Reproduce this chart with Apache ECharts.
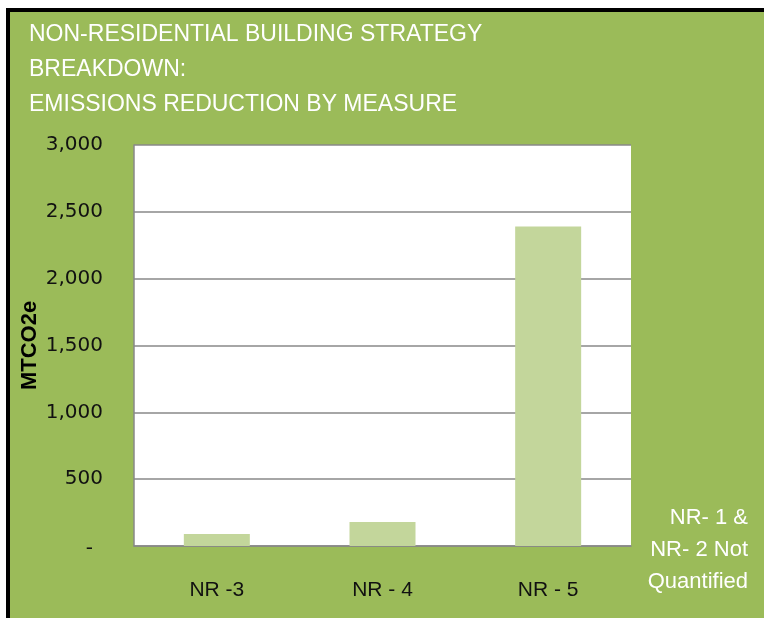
<!DOCTYPE html>
<html>
<head>
<meta charset="utf-8">
<script src="https://cdn.jsdelivr.net/npm/echarts@6/dist/echarts.min.js"></script>
<style>
  html, body { margin: 0; padding: 0; background: #ffffff; }
  #frame {
    position: absolute; left: 6px; top: 8px; width: 758px; height: 610px;
    box-sizing: border-box; background: #9BBB59;
    border-top: 4px solid #000; border-left: 4px solid #000;
  }
  #chart { position: absolute; left: 0; top: 0; width: 764px; height: 618px; }
</style>
</head>
<body>
<div id="frame"></div>
<div id="chart"></div>
<script>
// Emissions reduction per non-residential measure (MTCO2e)
const categories = ['NR -3', 'NR - 4', 'NR - 5'];
const reductions = [90, 180, 2390];
const yTicks = { min: 0, max: 3000, interval: 500 };
const titleLines = [
  'NON-RESIDENTIAL BUILDING STRATEGY',
  'BREAKDOWN:',
  'EMISSIONS REDUCTION BY MEASURE'
];
const noteLines = ['NR- 1 &', 'NR- 2 Not', 'Quantified'];

const chart = echarts.init(document.getElementById('chart'), null, { renderer: 'canvas' });

chart.setOption({
  backgroundColor: 'transparent',
  animation: false,
  title: {
    text: titleLines.join('\n'),
    left: 24,
    top: 12,
    textStyle: {
      color: '#ffffff',
      fontFamily: 'Liberation Sans',
      fontWeight: 'normal',
      fontSize: 23,
      lineHeight: 35
    }
  },
  grid: { left: 134, top: 145, right: 133, bottom: 72 },
  xAxis: {
    type: 'category',
    data: categories,
    axisLine: { show: true, lineStyle: { color: '#888888', width: 1.5 } },
    axisTick: { show: false },
    axisLabel: {
      color: '#111111',
      fontFamily: 'Liberation Sans',
      fontSize: 21,
      margin: 34
    }
  },
  yAxis: {
    type: 'value',
    min: yTicks.min,
    max: yTicks.max,
    interval: yTicks.interval,
    name: 'MTCO2e',
    nameLocation: 'middle',
    nameGap: 93,
    nameMoveOverlap: false,
    nameRotate: 90,
    nameTextStyle: {
      color: '#000000',
      fontFamily: 'Liberation Sans',
      fontWeight: 'bold',
      fontSize: 22
    },
    axisLine: { show: true, lineStyle: { color: '#888888', width: 1.5 } },
    axisTick: { show: false },
    splitLine: { show: true, lineStyle: { color: '#888888', width: 1.5 } },
    axisLabel: {
      color: '#111111',
      fontFamily: 'DejaVu Sans',
      fontSize: 20,
      margin: 31,
      formatter: v => v === 0 ? '{dash|-}' : v.toLocaleString('en-US'),
      rich: {
        dash: {
          color: '#111111',
          fontFamily: 'DejaVu Sans',
          fontSize: 20,
          padding: [6, 10, 0, 0]
        }
      }
    }
  },
  graphic: [
    {
      type: 'rect',
      z: -1,
      shape: { x: 134, y: 145, width: 497, height: 401 },
      style: { fill: '#ffffff' },
      silent: true
    },
    {
      type: 'text',
      x: 748,
      y: 502,
      style: {
        text: noteLines.join('\n'),
        fill: '#ffffff',
        font: '22px "Liberation Sans"',
        lineHeight: 32,
        align: 'right',
        verticalAlign: 'top'
      }
    }
  ],
  series: [{
    type: 'bar',
    data: reductions,
    barWidth: 66,
    itemStyle: { color: '#C3D69B' }
  }]
});
</script>
</body>
</html>
